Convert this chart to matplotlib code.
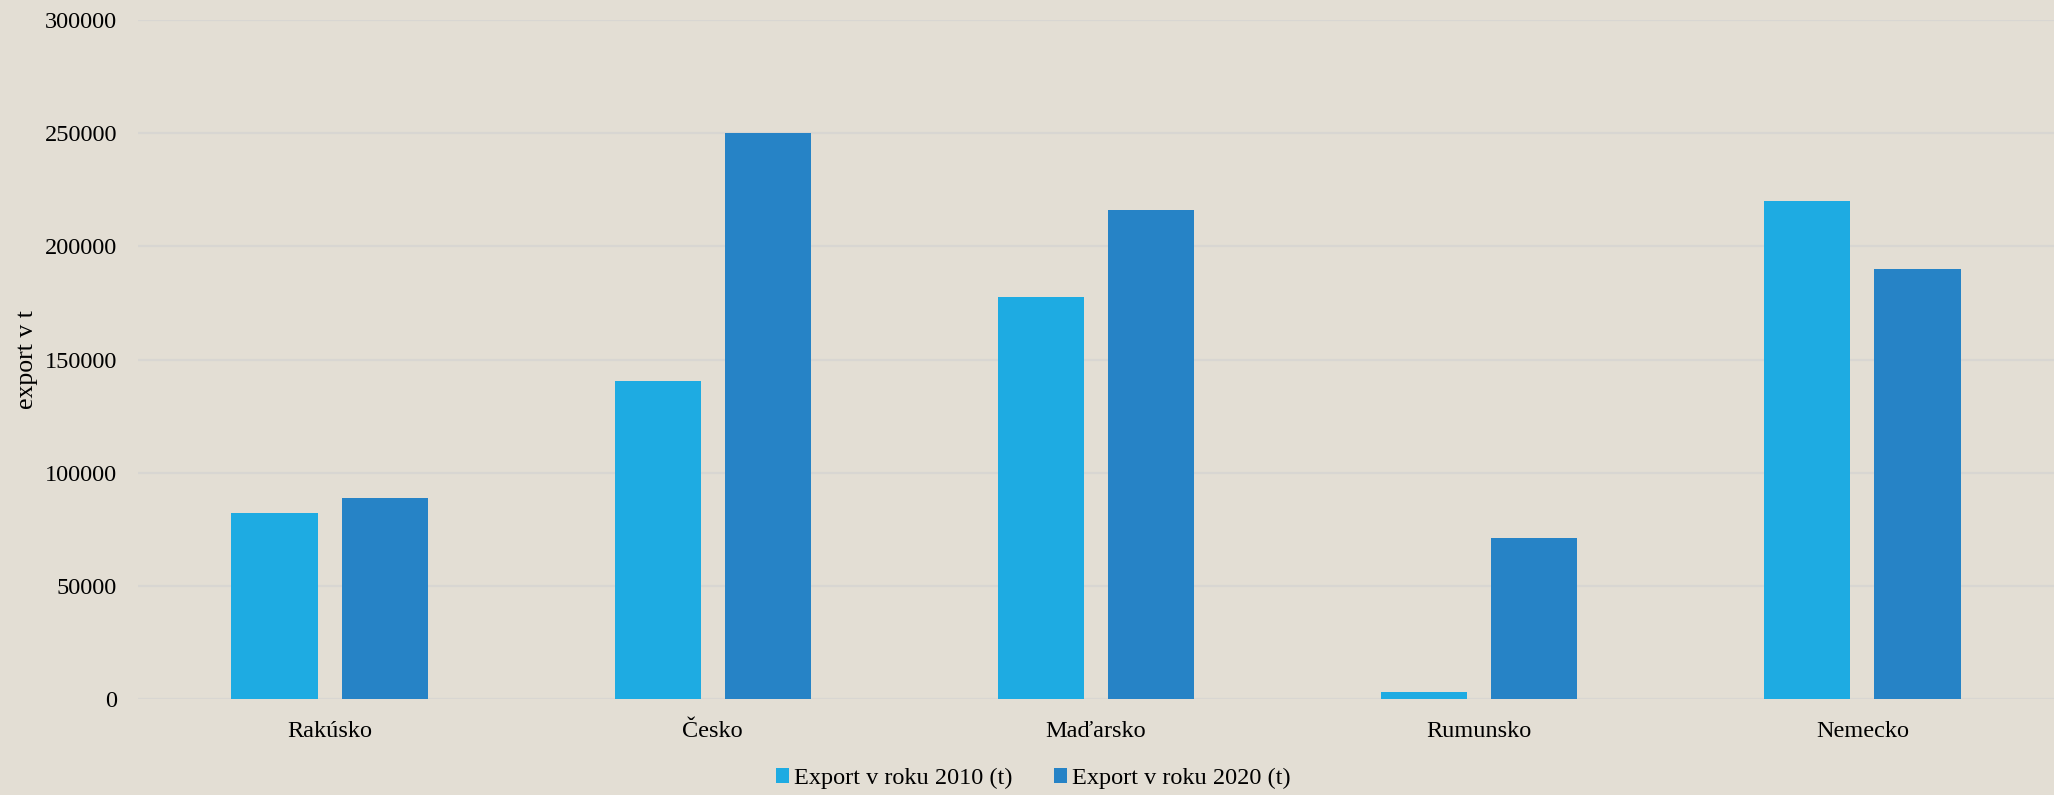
import matplotlib
matplotlib.use('Agg')
import matplotlib.pyplot as plt
import numpy as np

countries = ['Rakúsko', 'Česko', 'Maďarsko', 'Rumunsko', 'Nemecko']
export_2010 = [82000, 140500, 177500, 3000, 220000]
export_2020 = [89000, 250000, 216000, 71000, 190000]
series_labels = ['Export v roku 2010 (t)', 'Export v roku 2020 (t)']
y_ticks = [0, 50000, 100000, 150000, 200000, 250000, 300000]

bg = '#e3ded4'
c2010 = '#1eabe2'
c2020 = '#2683c6'

plt.rcParams['font.family'] = ['Liberation Serif', 'DejaVu Serif']

fig = plt.figure(figsize=(20.54, 7.95), dpi=100, facecolor=bg)
ax = fig.add_axes([138 / 2054, 1 - 699 / 795, 1 - 138 / 2054, (699 - 20) / 795])
ax.set_facecolor(bg)

x = np.arange(len(countries))
width = 0.225
off = 0.144
ax.bar(x - off, export_2010, width, color=c2010, label=series_labels[0], zorder=3)
ax.bar(x + off, export_2020, width, color=c2020, label=series_labels[1], zorder=3)

ax.set_xlim(-0.5, len(countries) - 0.5)
ax.set_ylim(0, 300000)
ax.set_yticks(y_ticks)
ax.set_yticklabels([str(v) for v in y_ticks])
ax.set_xticks(x)
ax.set_xticklabels(countries)
ax.tick_params(axis='both', length=0, labelsize=17.5, colors='black')
ax.tick_params(axis='y', pad=15)
ax.tick_params(axis='x', pad=16)
ax.grid(axis='y', color='#d8d6d2', linewidth=1.6, zorder=0)
for s in ax.spines.values():
    s.set_visible(False)

ax.set_ylabel('export v t', fontsize=18.5)
ax.yaxis.set_label_coords(-0.052, 0.5)

fig.legend(loc='center', bbox_to_anchor=(0.503, 0.021), ncol=2, frameon=False,
           fontsize=17.5, handlelength=0.55, handleheight=0.55, handletextpad=0.2,
           columnspacing=1.7)

fig.savefig('out.png', dpi=100, facecolor=bg)
